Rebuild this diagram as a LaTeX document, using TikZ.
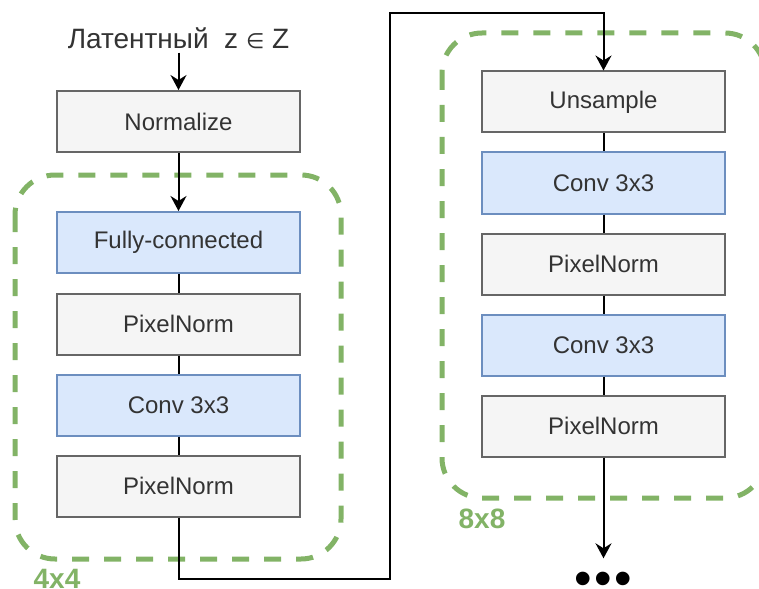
\documentclass[tikz,border=0pt]{standalone}
\usepackage{fontspec}
\setmainfont{Liberation Sans}
\newfontfamily\symfont{DejaVu Sans}
\usetikzlibrary{arrows.meta}
\definecolor{grayfill}{HTML}{F5F5F5}
\definecolor{graydraw}{HTML}{666666}
\definecolor{bluefill}{HTML}{DAE8FC}
\definecolor{bluedraw}{HTML}{6C8EBF}
\definecolor{greendash}{HTML}{82B366}
\definecolor{txt}{HTML}{333333}

\begin{document}
\begin{tikzpicture}[x=1pt,y=-1pt,
  layer/.style={draw, line width=2pt, minimum width=243pt, minimum height=61pt,
    inner sep=0pt, text=txt, font=\fontsize{24}{28}\selectfont},
  graybox/.style={layer, fill=grayfill, draw=graydraw},
  bluebox/.style={layer, fill=bluefill, draw=bluedraw},
  group/.style={draw=greendash, line width=5pt, dash pattern=on 17pt off 15pt,
    rounded corners=40pt},
  grouplabel/.style={text=greendash, font=\bfseries\fontsize{28}{30}\selectfont, inner sep=0pt},
  flow/.style={line width=2pt, draw=black},
  arrow/.style={flow, -{Stealth[length=15pt,width=16pt,inset=5pt]}}]
\useasboundingbox (0,0) rectangle (759,588);

% resolution groups
\draw[group] (15,175) rectangle (341,559);
\draw[group] (442,33) rectangle (765,498);
\node[grouplabel] (l4) at (57,578.5) {4x4};
\node[grouplabel] (l8) at (482,518.5) {8x8};

% input
\node[text=txt, font=\fontsize{28}{30}\selectfont, inner xsep=0pt, inner ysep=4pt] (latent)
  at (178.5,38) {Латентный\ \ z {\symfont\fontsize{21}{24}\selectfont ∈} Z};

% 4x4 block
\node[graybox] (norm) at (178.5,121.5) {Normalize};
\node[bluebox] (fc)   at (178.5,242.5) {Fully-connected};
\node[graybox] (pna)  at (178.5,324)   {PixelNorm};
\node[bluebox] (cva)  at (178.5,405)   {Conv 3x3};
\node[graybox] (pnb)  at (178.5,486)   {PixelNorm};

% 8x8 block
\node[graybox] (up)   at (603.5,102) {Unsample};
\node[bluebox] (cvc)  at (603.5,183) {Conv 3x3};
\node[graybox] (pnc)  at (603.5,264) {PixelNorm};
\node[bluebox] (cvd)  at (603.5,345) {Conv 3x3};
\node[graybox] (pnd)  at (603.5,426) {PixelNorm};

\node[text=black, font=\fontsize{50}{50}\selectfont, inner sep=0pt, minimum height=52pt]
  (dots) at (603.5,583.5) {•\kern2.5pt•\kern2.5pt•};

% connectors
\draw[arrow] (latent) -- (norm);
\draw[arrow] (norm) -- (fc);
\draw[flow] (fc) -- (pna);
\draw[flow] (pna) -- (cva);
\draw[flow] (cva) -- (pnb);

\coordinate (turnlow) at (390,579);
\coordinate (turnhigh) at (390,13);
\draw[arrow] (pnb.south) |- (turnlow) -- (turnhigh) -| (up.north);

\draw[flow] (up) -- (cvc);
\draw[flow] (cvc) -- (pnc);
\draw[flow] (pnc) -- (cvd);
\draw[flow] (cvd) -- (pnd);
\draw[arrow] (pnd) -- ([yshift=-1pt]dots.north);
\end{tikzpicture}
\end{document}
